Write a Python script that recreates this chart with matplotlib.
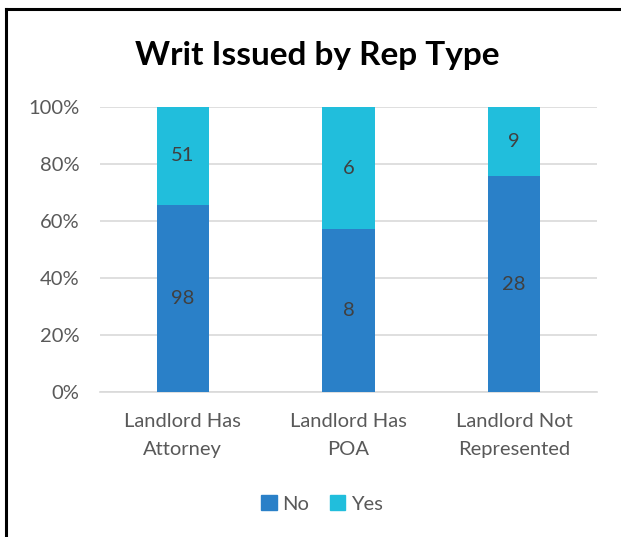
import matplotlib
matplotlib.use("Agg")
import matplotlib.pyplot as plt
from matplotlib.lines import Line2D
from matplotlib.patches import Patch
import numpy as np

categories = ["Landlord Has\nAttorney", "Landlord Has\nPOA", "Landlord Not\nRepresented"]
no_counts = [98, 8, 28]
yes_counts = [51, 6, 9]
series_names = ["No", "Yes"]
yticks = [0, 20, 40, 60, 80, 100]
ytick_labels = ["0%", "20%", "40%", "60%", "80%", "100%"]
title = "Writ Issued by Rep Type"

col_no = "#2A80C8"
col_yes = "#21BEDC"
font = ["Lato", "DejaVu Sans"]
plt.rcParams["font.family"] = font

fig = plt.figure(figsize=(6.21, 5.37), dpi=100)
ax = fig.add_axes([100/621, 145/537, 497/621, 285/537])

no = np.array(no_counts, float)
yes = np.array(yes_counts, float)
tot = no + yes
no_p = no / tot * 100
yes_p = yes / tot * 100
x = np.arange(len(categories))
w = 0.315
ax.bar(x, no_p, w, color=col_no, zorder=3, label=series_names[0])
ax.bar(x, yes_p, w, bottom=no_p, color=col_yes, zorder=3, label=series_names[1])

for i in range(len(x)):
    ax.text(x[i], no_p[i] / 2, str(no_counts[i]), ha="center", va="center",
            fontsize=14.5, color="#404040", zorder=4)
    ax.text(x[i], no_p[i] + yes_p[i] / 2, str(yes_counts[i]), ha="center", va="center",
            fontsize=14.5, color="#404040", zorder=4)

ax.set_xlim(-0.5, 2.5)
ax.set_ylim(0, 100)
ax.set_yticks(yticks)
ax.set_yticklabels(ytick_labels)
ax.set_xticks(x)
ax.set_xticklabels(categories, linespacing=1.8)
ax.tick_params(axis="both", length=0, labelsize=14.5, labelcolor="#595959")
ax.tick_params(axis="y", pad=15)
ax.tick_params(axis="x", pad=15)
ax.yaxis.grid(True, color="#D9D9D9", linewidth=1.2, zorder=0)
for s in ["left", "right", "top"]:
    ax.spines[s].set_visible(False)
ax.spines["bottom"].set_color("#D9D9D9")
ax.spines["bottom"].set_linewidth(1.2)

fig.text(317/621, 1 - 55/537, title, ha="center", va="center",
         fontsize=24, fontweight="bold", color="black")

handles = [Patch(color=col_no), Patch(color=col_yes)]
fig.legend(handles, series_names, loc="center", bbox_to_anchor=(322/621, 1 - 504/537),
           ncol=2, frameon=False, fontsize=14.5, labelcolor="#595959",
           handlelength=0.75, handleheight=0.75, handletextpad=0.3, columnspacing=1.0)

# outer border (left and top)
fig.add_artist(Line2D([6/621, 6/621], [0, 1 - 9/537], color="black", linewidth=2.2,
                      transform=fig.transFigure))
fig.add_artist(Line2D([6/621, 1], [1 - 9/537, 1 - 9/537], color="black", linewidth=2.2,
                      transform=fig.transFigure))

fig.savefig("out.png", dpi=100, facecolor="white")
